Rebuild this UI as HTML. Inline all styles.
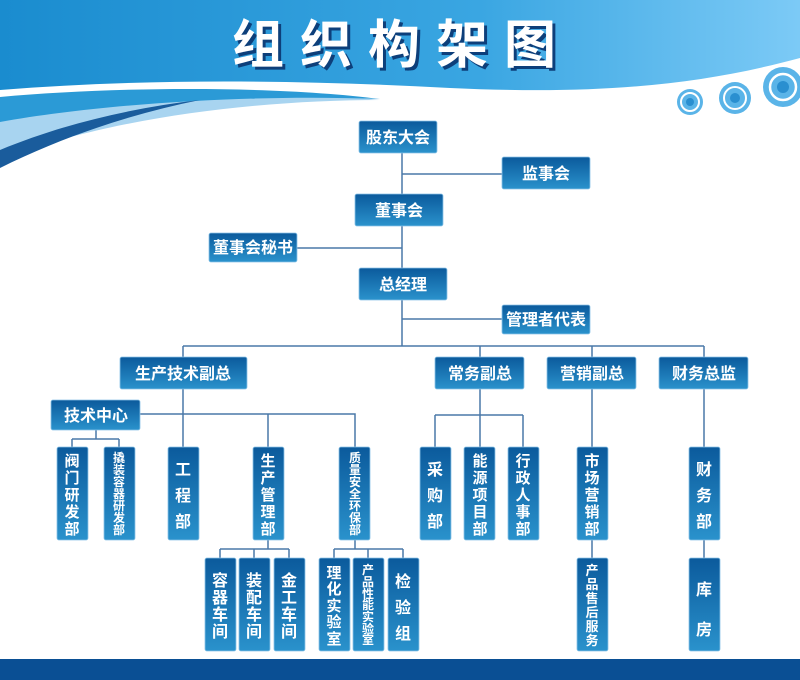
<!DOCTYPE html>
<html><head><meta charset="utf-8"><style>
body{margin:0;background:#fff}
svg{display:block}
.t{font-family:"Liberation Sans","Noto Sans CJK SC",sans-serif;font-weight:bold;fill:#fff;text-anchor:middle}
</style></head><body>
<svg width="800" height="680" viewBox="0 0 800 680" xmlns="http://www.w3.org/2000/svg">
<defs>
<linearGradient id="hd" x1="0" x2="1" y1="0" y2="0"><stop offset="0" stop-color="#1a8ccf"/><stop offset="0.6" stop-color="#3aa6e2"/><stop offset="1" stop-color="#7ccaf6"/></linearGradient>
<linearGradient id="bx" x1="0" x2="0" y1="0" y2="1"><stop offset="0" stop-color="#0b5a9c"/><stop offset="1" stop-color="#2a92cc"/></linearGradient>
</defs>
<path d="M0,0 H800 V58 C700,85 600,95 450,88 C300,80 150,78 0,90 Z" fill="url(#hd)"/>
<path d="M0,100 C120,88 280,90 380,100 C250,100 100,120 0,160 Z" fill="#a8d4f0"/>
<path d="M0,97 C120,86 280,86 380,99 C250,94 100,104 0,122 Z" fill="#2b9ad6"/>
<path d="M0,150 C60,125 130,108 200,100 C130,114 60,138 0,168 Z" fill="#1a5c9c"/>
<g fill="none">
<circle cx="690" cy="102" r="13" fill="#5ab4e8"/><circle cx="690" cy="102" r="9" stroke="#fff" stroke-width="2"/><circle cx="690" cy="102" r="4" fill="#2a8fd0"/>
<circle cx="735" cy="98" r="16" fill="#5ab4e8"/><circle cx="735" cy="98" r="11" stroke="#fff" stroke-width="2"/><circle cx="735" cy="98" r="5" fill="#2a8fd0"/>
<circle cx="783" cy="87" r="20" fill="#5ab4e8"/><circle cx="783" cy="87" r="13" stroke="#fff" stroke-width="2.5"/><circle cx="783" cy="87" r="6" fill="#2a8fd0"/>
</g>
<text x="402" y="63" class="t" font-size="52" style="fill:#0d3f7a" dx="3" dy="3" letter-spacing="16">组织构架图</text>
<text x="402" y="63" class="t" font-size="52" letter-spacing="16">组织构架图</text>
<rect x="0" y="659" width="800" height="21" fill="#0a4f94"/>
<g stroke="#4a78a8" stroke-width="1.5" fill="none">
<path d="M402,153 V346 M402,174 H502 M402,248 H297 M402,319 H502 M183,346 H704 M183,346 V357 M480,346 V357 M592,346 V357 M704,346 V357"/>
<path d="M183,389 V447 M140,414 H355 V447 M268,414 V447 M96,430 V439 M72,439 H119 M72,439 V447 M119,439 V447"/>
<path d="M480,389 V447 M435,415 H523 M435,415 V447 M523,415 V447 M592,389 V558 M704,389 V558"/>
<path d="M268,540 V549 M220,549 H289 M220,549 V558 M254,549 V558 M289,549 V558 M355,540 V549 M334,549 H403 M334,549 V558 M368,549 V558 M403,549 V558"/>
</g>
<g fill="url(#bx)" stroke="#8cc4e8" stroke-width="0.8">
<rect x="359" y="121" width="78" height="32" rx="2"/>
<rect x="502" y="157" width="88" height="32" rx="2"/>
<rect x="355" y="194" width="88" height="32" rx="2"/>
<rect x="209" y="233" width="88" height="29" rx="2"/>
<rect x="359" y="268" width="88" height="32" rx="2"/>
<rect x="502" y="305" width="88" height="29" rx="2"/>
<rect x="120" y="357" width="127" height="32" rx="2"/>
<rect x="435" y="357" width="89" height="32" rx="2"/>
<rect x="547" y="357" width="89" height="32" rx="2"/>
<rect x="659" y="357" width="89" height="32" rx="2"/>
<rect x="51" y="400" width="89" height="30" rx="2"/>
<rect x="57" y="447" width="31" height="93" rx="2"/>
<rect x="104" y="447" width="31" height="93" rx="2"/>
<rect x="168" y="447" width="31" height="93" rx="2"/>
<rect x="253" y="447" width="31" height="93" rx="2"/>
<rect x="339" y="447" width="31" height="93" rx="2"/>
<rect x="420" y="447" width="31" height="93" rx="2"/>
<rect x="464" y="447" width="31" height="93" rx="2"/>
<rect x="508" y="447" width="31" height="93" rx="2"/>
<rect x="577" y="447" width="31" height="93" rx="2"/>
<rect x="689" y="447" width="31" height="93" rx="2"/>
<rect x="205" y="558" width="31" height="93" rx="2"/>
<rect x="239" y="558" width="31" height="93" rx="2"/>
<rect x="274" y="558" width="31" height="93" rx="2"/>
<rect x="319" y="558" width="31" height="93" rx="2"/>
<rect x="353" y="558" width="31" height="93" rx="2"/>
<rect x="388" y="558" width="31" height="93" rx="2"/>
<rect x="577" y="558" width="31" height="93" rx="2"/>
<rect x="689" y="558" width="31" height="93" rx="2"/>
</g>
<g class="t" font-size="16">
<text x="398" y="143">股东大会</text>
<text x="546" y="179">监事会</text>
<text x="399" y="216">董事会</text>
<text x="253" y="253">董事会秘书</text>
<text x="403" y="290">总经理</text>
<text x="546" y="325">管理者代表</text>
<text x="183" y="379">生产技术副总</text>
<text x="480" y="379">常务副总</text>
<text x="592" y="379">营销副总</text>
<text x="704" y="379">财务总监</text>
<text x="96" y="421">技术中心</text>
</g>
<g class="t" font-size="15">
<text x="72" y="466">阀</text><text x="72" y="483">门</text><text x="72" y="500">研</text><text x="72" y="517">发</text><text x="72" y="534">部</text>
<text x="268" y="466">生</text><text x="268" y="483">产</text><text x="268" y="500">管</text><text x="268" y="517">理</text><text x="268" y="534">部</text>
<text x="480" y="466">能</text><text x="480" y="483">源</text><text x="480" y="500">项</text><text x="480" y="517">目</text><text x="480" y="534">部</text>
<text x="523" y="466">行</text><text x="523" y="483">政</text><text x="523" y="500">人</text><text x="523" y="517">事</text><text x="523" y="534">部</text>
<text x="592" y="466">市</text><text x="592" y="483">场</text><text x="592" y="500">营</text><text x="592" y="517">销</text><text x="592" y="534">部</text>
<text x="334" y="578">理</text><text x="334" y="594">化</text><text x="334" y="611">实</text><text x="334" y="627">验</text><text x="334" y="644">室</text>
</g>
<g class="t" font-size="16">
<text x="183" y="475">工</text><text x="183" y="501">程</text><text x="183" y="527">部</text>
<text x="435" y="475">采</text><text x="435" y="501">购</text><text x="435" y="527">部</text>
<text x="704" y="475">财</text><text x="704" y="501">务</text><text x="704" y="527">部</text>
<text x="220" y="586">容</text><text x="220" y="603">器</text><text x="220" y="620">车</text><text x="220" y="637">间</text>
<text x="254" y="586">装</text><text x="254" y="603">配</text><text x="254" y="620">车</text><text x="254" y="637">间</text>
<text x="289" y="586">金</text><text x="289" y="603">工</text><text x="289" y="620">车</text><text x="289" y="637">间</text>
<text x="403" y="587">检</text><text x="403" y="613">验</text><text x="403" y="639">组</text>
<text x="704" y="595">库</text><text x="704" y="635">房</text>
</g>
<g class="t" font-size="12">
<text x="119" y="462">撬</text><text x="119" y="474">装</text><text x="119" y="486">容</text><text x="119" y="498">器</text><text x="119" y="510">研</text><text x="119" y="522">发</text><text x="119" y="534">部</text>
<text x="355" y="462">质</text><text x="355" y="474">量</text><text x="355" y="486">安</text><text x="355" y="498">全</text><text x="355" y="510">环</text><text x="355" y="522">保</text><text x="355" y="534">部</text>
<text x="368" y="574">产</text><text x="368" y="586">品</text><text x="368" y="598">性</text><text x="368" y="609">能</text><text x="368" y="621">实</text><text x="368" y="633">验</text><text x="368" y="644">室</text>
</g>
<g class="t" font-size="13">
<text x="592" y="575">产</text><text x="592" y="589">品</text><text x="592" y="603">售</text><text x="592" y="617">后</text><text x="592" y="631">服</text><text x="592" y="645">务</text>
</g>
</svg>
</body></html>
